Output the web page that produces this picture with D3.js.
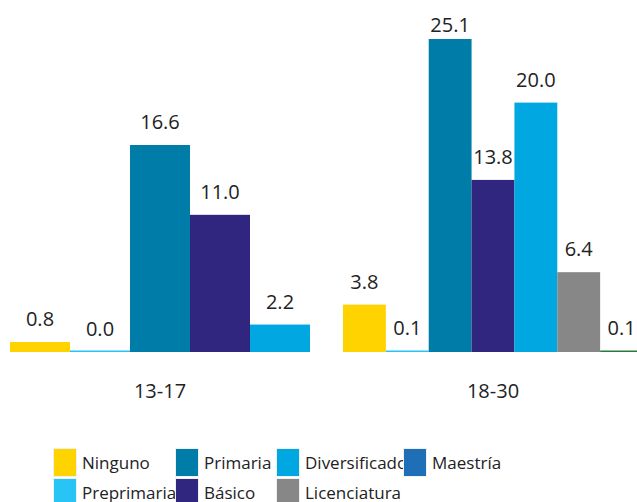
<!DOCTYPE html>
<html><head><meta charset="utf-8">
<script src="https://cdn.jsdelivr.net/npm/d3@7"></script>
<style>body{margin:0;background:#fff}svg{display:block}</style>
</head><body>
<script>
const groups = ["13-17", "18-30"];
const series = ["Ninguno","Preprimaria","Primaria","Básico","Diversificado","Licenciatura","Maestría","Otro"];
const colors = ["#FFD300","#29C4F6","#007CA8","#30267F","#00A7E1","#878787","#1F6FB8","#2A7A3E"];
const legendSeries = ["Ninguno","Primaria","Diversificado","Maestría","Preprimaria","Básico","Licenciatura"];
const values1317 = [0.8, 0.0, 16.6, 11.0, 2.2, null, null, null];
const values1830 = [3.8, 0.1, 25.1, 13.8, 20.0, 6.4, null, 0.1];

const W = 637, H = 502;
const svg = d3.select("body").append("svg").attr("width", W).attr("height", H);
const font = "'Open Sans', sans-serif";
const color = d3.scaleOrdinal().domain(series).range(colors);

const y = d3.scaleLinear().domain([0, 25.1]).range([352, 39]);
const x0 = d3.scaleBand().domain(groups).range([10, 643]).paddingInner(33 / 333).paddingOuter(0);
const data = [values1317, values1830];

groups.forEach((g, gi) => {
  const present = series.filter((s, i) => data[gi][i] !== null);
  const x1 = d3.scaleBand().domain(present).range([x0(g), x0(g) + x0.bandwidth()]);
  const rows = present.map(s => ({s, v: data[gi][series.indexOf(s)]}));
  const gg = svg.append("g");
  gg.selectAll("rect").data(rows).join("rect")
    .attr("x", d => x1(d.s)).attr("width", x1.bandwidth())
    .attr("y", d => Math.min(y(d.v), y(0) - 1.5))
    .attr("height", d => Math.max(y(0) - y(d.v), 1.5))
    .attr("fill", d => color(d.s));
  gg.selectAll("text").data(rows).join("text")
    .attr("x", d => x1(d.s) + x1.bandwidth() / 2)
    .attr("y", d => Math.max(y(d.v) - 16, 32))
    .attr("text-anchor", "middle")
    .attr("font-family", font).attr("font-size", 20).attr("fill", "#222")
    .text(d => d3.format(".1f")(d.v));
  svg.append("text").attr("x", x0(g) + x0.bandwidth() / 2).attr("y", 398)
    .attr("text-anchor", "middle").attr("font-family", font).attr("font-size", 20).attr("fill", "#222")
    .text(g);
});

const colX = [54, 176, 277, 404];
const leg = svg.append("g");
legendSeries.forEach((s, i) => {
  const col = i % 4, row = Math.floor(i / 4);
  const lx = colX[col], ly = 449 + row * 30;
  leg.append("rect").attr("x", lx - 1).attr("y", ly - 1).attr("width", 24).attr("height", 29).attr("fill", "#f0f0f0");
  leg.append("rect").attr("x", lx).attr("y", ly).attr("width", 22).attr("height", 27).attr("fill", color(s));
  leg.append("text").attr("x", lx + 28).attr("y", ly + 20)
    .attr("font-family", font).attr("font-size", 17).attr("fill", "#222").text(s);
});
</script>
</body></html>
